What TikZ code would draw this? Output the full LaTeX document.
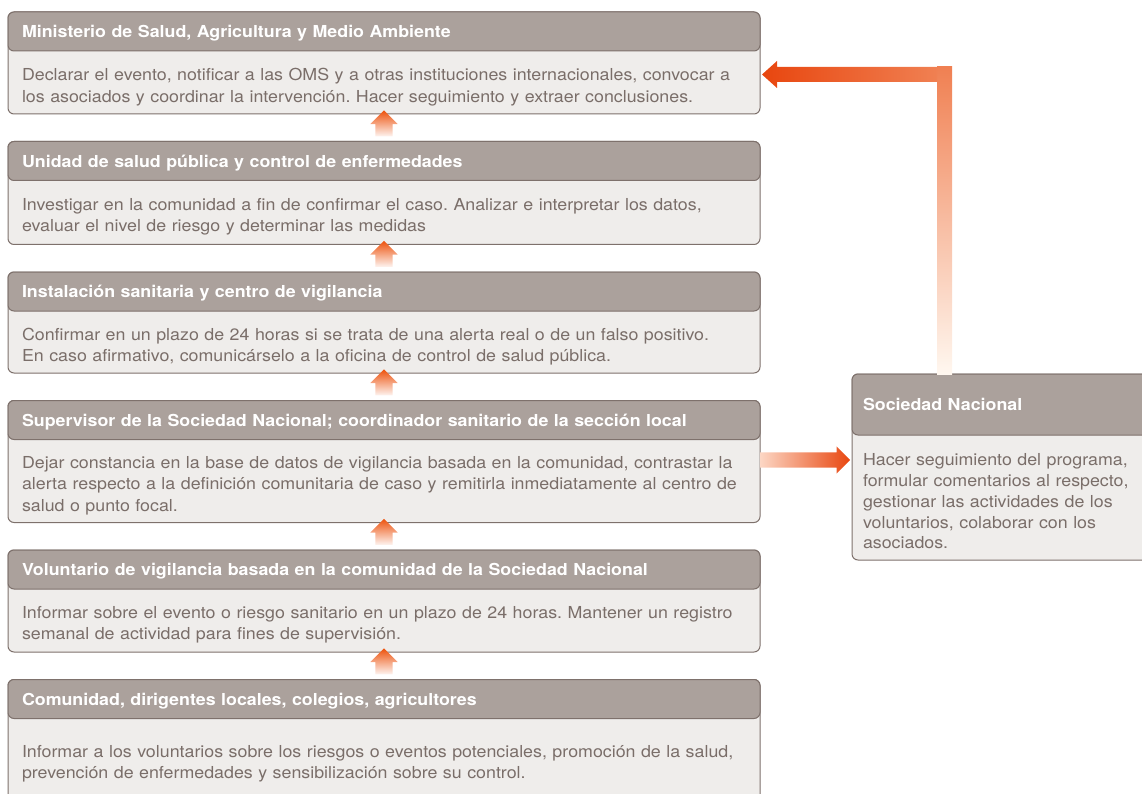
\documentclass[tikz,border=0pt]{standalone}
\usepackage{fontspec}
\setmainfont{TeX Gyre Heros}[FakeStretch=1.08]
\usetikzlibrary{positioning, calc, shapes.arrows, backgrounds}
\frenchspacing

\definecolor{headfill}{RGB}{171,161,156}
\definecolor{bodyfill}{RGB}{239,237,235}
\definecolor{boxborder}{RGB}{126,113,108}
\definecolor{bodytext}{RGB}{122,110,105}
\definecolor{orangedark}{RGB}{232,70,15}
\definecolor{orangemid}{RGB}{240,128,82}
\definecolor{orangepale}{RGB}{252,214,196}

\begin{document}
\begin{tikzpicture}[x=1pt,y=-1pt,node distance=27.5pt,
    head/.style={anchor=north west,text=white,font=\bfseries\fontsize{16.5}{21.5}\selectfont,text depth=0pt,
        text width=724pt,inner xsep=14pt,inner ysep=0pt,minimum height=39pt,align=left,outer sep=0pt},
    body/.style={text=bodytext,font=\fontsize{16.5}{21.5}\selectfont,
        text width=724pt,inner xsep=14pt,inner ysep=0pt,align=left,outer sep=0pt},
    boxline/.style={draw=boxborder,line width=1pt,rounded corners=6pt},
    uparrow/.style={single arrow,shape border rotate=90,minimum height=24pt,inner sep=8.5pt,
        single arrow head extend=5pt,top color=orangedark!80!orange,bottom color=orangedark!6},
    sidearrow/.style={single arrow,minimum height=90pt,inner sep=7.5pt,
        single arrow head extend=6pt,left color=orangepale,right color=orangedark}]

\useasboundingbox (0,0) rectangle (1142,794);

\node[head]                     (h1) at (8,12) {Ministerio de Salud, Agricultura y Medio Ambiente};
\node[body,minimum height=54pt] (b1) [below=9pt of h1] {Declarar el evento, notificar a las OMS y a otras instituciones internacionales, convocar a\\los asociados y coordinar la intervención. Hacer seguimiento y extraer conclusiones.};

\node[head]                     (h2) [below=of b1] {Unidad de salud pública y control de enfermedades};
\node[body,minimum height=55pt] (b2) [below=9pt of h2] {Investigar en la comunidad a fin de confirmar el caso. Analizar e interpretar los datos,\\evaluar el nivel de riesgo y determinar las medidas};

\node[head]                     (h3) [below=of b2] {Instalación sanitaria y centro de vigilancia};
\node[body,minimum height=53pt] (b3) [below=9pt of h3] {Confirmar en un plazo de 24 horas si se trata de una alerta real o de un falso positivo.\\En caso afirmativo, comunicárselo a la oficina de control de salud pública.};

\node[head]                     (h4) [below=of b3] {Supervisor de la Sociedad Nacional; coordinador sanitario de la sección local};
\node[body,minimum height=74pt] (b4) [below=9pt of h4] {Dejar constancia en la base de datos de vigilancia basada en la comunidad, contrastar la\\alerta respecto a la definición comunitaria de caso y remitirla inmediatamente al centro de\\salud o punto focal.};

\node[head]                     (h5) [below=of b4] {Voluntario de vigilancia basada en la comunidad de la Sociedad Nacional};
\node[body,minimum height=54pt] (b5) [below=9pt of h5] {Informar sobre el evento o riesgo sanitario en un plazo de 24 horas. Mantener un registro\\semanal de actividad para fines de supervisión.};

\node[head]                     (h6) [below=of b5] {Comunidad, dirigentes locales, colegios, agricultores};
\node[body,minimum height=73pt] (b6) [below=9pt of h6] {Informar a los voluntarios sobre los riesgos o eventos potenciales, promoción de la salud,\\prevención de enfermedades y sensibilización sobre su control.};

% Sociedad Nacional
\node[head,text width=278pt,inner xsep=11pt,minimum height=61pt] (h7) at (852,374) {Sociedad Nacional};
\node[body,text width=278pt,inner xsep=11pt,minimum height=117pt,font=\fontsize{16.5}{20.8}\selectfont] (b7) [below=8pt of h7] {Hacer seguimiento del programa,\\formular comentarios al respecto,\\gestionar las actividades de los\\voluntarios, colaborar con los\\asociados.};

\begin{scope}[on background layer]
\foreach \i in {1,...,7}{
    \draw[boxline,fill=bodyfill] (h\i.north west) rectangle (b\i.south east);
    \draw[boxline,fill=headfill] (h\i.north west) rectangle (h\i.south east);
}
\end{scope}

% flechas entre etapas
\foreach \i/\j in {2/1,3/2,4/3,5/4,6/5}
    \node[uparrow] (up\i) at ($(b\j.south)!.5!(h\i.north)$) {};

\node[sidearrow,anchor=tail] (toSoc) at ($(b4.north east)+(0,11.5)$) {};

% retorno al ministerio
\coordinate (minTip) at ($(b1.north east)+(2,14.5)$);
\coordinate (socTop) at ($(h7.north west)+(92.5,0)$);
\coordinate (bend) at (minTip -| socTop);
\shade[top color=orangemid,bottom color=white!94!orange]
    ($(bend)+(-7.5,-7.5)$) rectangle ($(socTop)+(7.5,0)$);
\shade[left color=orangedark,right color=orangemid]
    (minTip) -- ++(15,-13.5) -- ++(0,6) -- ($(bend)+(-7.5,-7.5)$) -- ($(bend)+(-7.5,7.5)$)
    -- ($(minTip)+(15,7.5)$) -- ++(0,6) -- cycle;
\end{tikzpicture}
\end{document}
